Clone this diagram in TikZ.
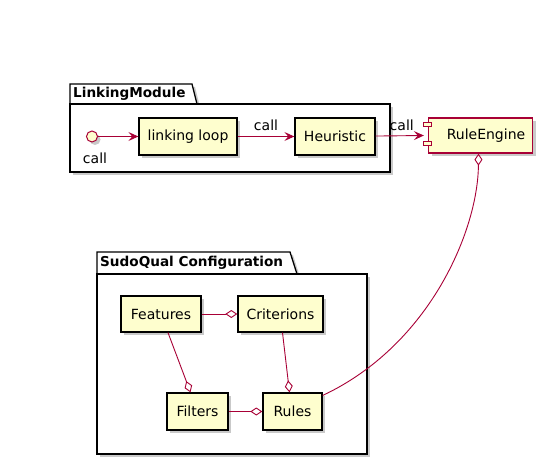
\documentclass[tikz,border=0pt]{standalone}
\usepackage{fontspec}
\setmainfont{DejaVu Sans}
\usepackage{tikz}
\usetikzlibrary{arrows.meta}
\usetikzlibrary{shadows}
\definecolor{umlred}{RGB}{168,0,54}
\definecolor{umlfill}{RGB}{254,254,206}

\tikzset{
    shade/.style={drop shadow={shadow xshift=3pt,shadow yshift=-3pt,opacity=0.35,fill=black!60}},
    box/.style={rectangle,draw=black,fill=umlfill,line width=1.3pt,inner sep=0pt,
        minimum height=37pt,font=\fontsize{14}{16}\selectfont,shade},
    pkg/.style={draw=black,fill=white,line width=1.3pt,shade},
    ptitle/.style={anchor=west,inner sep=0pt,font=\fontsize{13.6}{16}\selectfont\bfseries},
    lbl/.style={font=\fontsize{14}{16}\selectfont,inner sep=0pt}
}

\begin{document}
\begin{tikzpicture}[x=1pt,y=-1pt]
\useasboundingbox (0,0) rectangle (541,465);
% packages
\draw[pkg] (70,84) -- (192,84) -- (197,104) -- (70,104) -- cycle;
\draw[pkg] (70,104) rectangle (390,172);
\node[ptitle] (lmt) at (73,94) {LinkingModule};
\draw[pkg] (97,252) -- (290,252) -- (297,274) -- (97,274) -- cycle;
\draw[pkg] (97,274) rectangle (367,454);
\node[ptitle] (sqt) at (100,263) {SudoQual Configuration};

\begin{scope}
    \node[circle,draw=umlred,fill=umlfill,line width=1pt,minimum size=11pt,inner sep=0pt,shade,
        label={[lbl,yshift=-10pt,xshift=3pt]below:call}] (ci) at (92,136.5) {};
    \node[box,minimum width=98pt] (ll) at (188,136.5) {linking loop};
    \node[box,minimum width=80pt] (he) at (335,136.5) {Heuristic};
    \node[box,draw=umlred,minimum width=104pt,minimum height=35pt] (re) at (480.5,135.5) {\hspace*{11pt}RuleEngine};
    \node[box,minimum width=80pt,minimum height=36pt] (fe) at (161,314) {Features};
    \node[box,minimum width=85pt,minimum height=36pt] (cr) at (280.5,314) {Criterions};
    \node[box,minimum width=61pt] (fi) at (197.5,411.5) {Filters};
    \node[box,minimum width=59pt] (ru) at (292.5,411.5) {Rules};
\end{scope}
% component widgets
\draw[draw=umlred,fill=umlfill,line width=1pt] ([xshift=-4pt,yshift=-5pt]re.north west) rectangle ++(8,4.5);
\draw[draw=umlred,fill=umlfill,line width=1pt] ([xshift=-4pt,yshift=-24pt]re.north west) rectangle ++(8,4.5);

\begin{scope}[>={Stealth[length=10pt,width=9pt,inset=4pt]},
    every edge/.style={draw=umlred,line width=0.9pt},
    agg/.style={-{Diamond[open,fill=white,length=12pt,width=8pt]}}]
    \path [->] (ci) edge (ll);
    \path [->] (ll) edge node[lbl,above=5pt] {call} (he);
    \path [->] (he) edge node[lbl,above=5pt,xshift=2pt] {call} ([xshift=-4pt]re.west);

    \path [agg] (fe) edge (cr);
    \path [agg] ([xshift=7pt]fe.south) edge ([xshift=-7pt]fi.north);
    \path [agg] ([xshift=2pt]cr.south) edge ([xshift=-3pt]ru.north);
    \path [agg] (fi) edge (ru);
    \draw [agg,draw=umlred,line width=0.9pt] (ru.28) .. controls (430,345) and (478,230) .. ([xshift=-2pt]re.south);
\end{scope}
\end{tikzpicture}
\end{document}
